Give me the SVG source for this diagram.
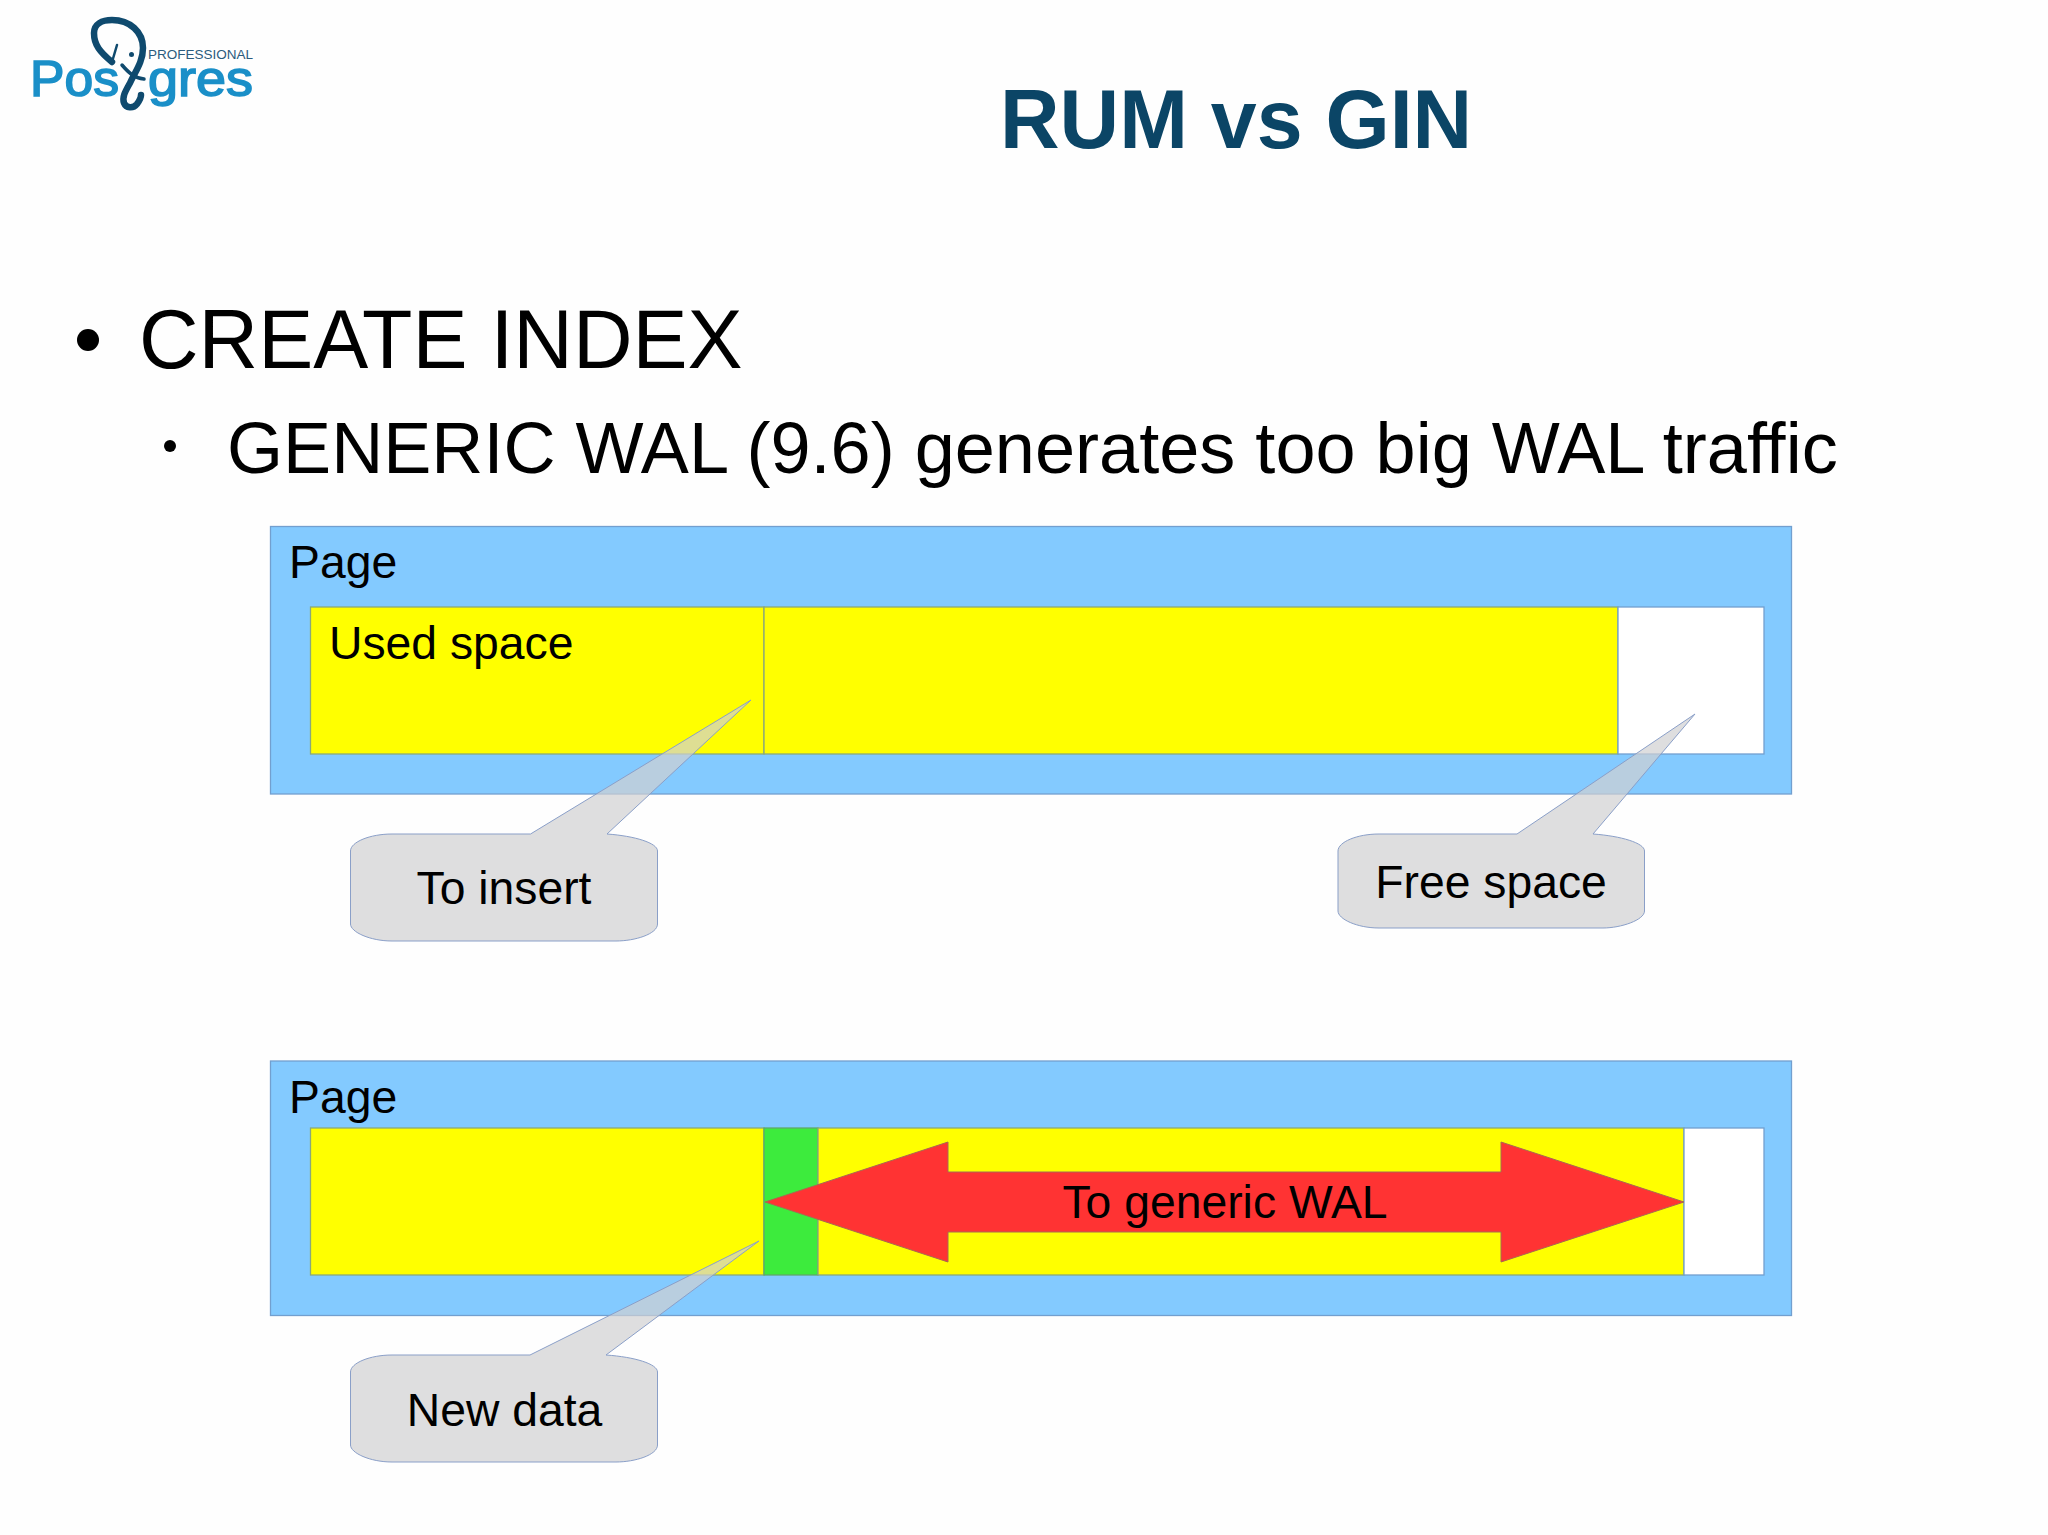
<svg xmlns="http://www.w3.org/2000/svg" width="2048" height="1535" viewBox="0 0 2048 1535">
<style>
text{font-family:"Liberation Sans",Arial,sans-serif;fill:#000}
.lbl{font-size:46.3px}
.mid{text-anchor:middle}
.page{fill:#83caff;stroke:#729fcf;stroke-width:1.3}
.used{fill:#ffff00;stroke:#8aa87a;stroke-width:1.3}
.free{fill:#fff;stroke:#729fcf;stroke-width:1.3}
.new{fill:#3deb3d;stroke:#5ea86a;stroke-width:1.3}
.call{fill:#d0d0d2;fill-opacity:.7;stroke:#8a9fc8;stroke-width:1}
.logo{fill:none;stroke:#0f4a6e;stroke-linecap:round;stroke-linejoin:round}
.brand{fill:#1a8fc8;stroke:#1a8fc8;stroke-width:1.6px}
</style>
<rect width="2048" height="1535" fill="#fefefe"/>
<g id="logo">
<text class="brand" x="30" y="96" font-size="50" textLength="89" lengthAdjust="spacingAndGlyphs">Pos</text>
<text class="brand" x="148" y="96" font-size="50" textLength="105" lengthAdjust="spacingAndGlyphs">gres</text>
<text x="148" y="59" font-size="13.500" style="fill:#2a5b7d">PROFESSIONAL</text>
<path class="logo" stroke-width="6.500" d="M112,62 C100,52 94,45 94,33 C94,24 102,20 112,20 C130,20 143,32 143,48 C143,62 135,72 130,83 C125,92 122,97 124,103 C126,108 133,109 137,104 C140,100 141,98 141,95"/>
<path class="logo" stroke-width="2.500" d="M117,45 L112,62"/>
<path class="logo" stroke-width="3.500" d="M122,65 C128,72 134,78 144,79"/>
<circle cx="131.500" cy="54.500" r="2.500" fill="#0f4a6e"/>
</g>
<g id="title"><text x="1000" y="148" font-size="82.500" font-weight="700" style="fill:#0b4566">RUM vs GIN</text></g>
<g id="bullets">
<circle cx="88" cy="340" r="11"/>
<text x="139" y="368" font-size="82.500">CREATE INDEX</text>
<circle cx="170" cy="446" r="6"/>
<text x="227" y="473" font-size="72.100">GENERIC WAL (9.6) generates too big WAL traffic</text>
</g>
<g id="page1">
<rect class="page" x="270.500" y="526.500" width="1521" height="267.500"/>
<rect class="used" x="310.500" y="607" width="453.500" height="147"/>
<rect class="used" x="764" y="607" width="854" height="147"/>
<rect class="free" x="1618" y="607" width="146" height="147"/>
<text class="lbl" x="289" y="578">Page</text>
<text class="lbl" x="329" y="658.500">Used space</text>
</g>
<g id="page2">
<rect class="page" x="270.500" y="1061" width="1521" height="254.500"/>
<rect class="used" x="310.500" y="1128" width="453.500" height="147"/>
<rect class="new" x="764" y="1128" width="54" height="147"/>
<rect class="used" x="818" y="1128" width="866" height="147"/>
<rect class="free" x="1684" y="1128" width="80" height="147"/>
<text class="lbl" x="289" y="1112.500">Page</text>
</g>
<g id="connectors">
<path id="arrow-wal" fill="#ff3333" stroke="#a86a50" stroke-width="1" d="M765,1202 L948,1142 V1172 H1501 V1142 L1684,1202 L1501,1262 V1232 H948 V1262 Z"/>
</g>
<g id="arrow-label"><text class="lbl mid" x="1225" y="1218">To generic WAL</text></g>
<g id="callout-insert">
<path class="call" d="M392,834 H530.500 L751,700 L607,834 C635,836 657.500,843 657.500,851 V924 C657.500,934 635,941 616,941 H392 C370,941 350.500,932 350.500,924 V851 C350.500,842 370,834 392,834 Z"/>
<text class="lbl mid" x="504" y="903.500">To insert</text>
</g>
<g id="callout-free">
<path class="call" d="M1379,834 H1517 L1695,714 L1593,834 C1621,836 1644.500,843 1644.500,851 V911 C1644.500,920 1621,928 1603,928 H1379 C1357,928 1338,919 1338,911 V851 C1338,842 1357,834 1379,834 Z"/>
<text class="lbl mid" x="1491" y="897.500">Free space</text>
</g>
<g id="callout-new">
<path class="call" d="M392,1355 H530 L759,1241 L606,1355 C635,1357 657.500,1364 657.500,1372 V1445 C657.500,1455 635,1462 616,1462 H392 C370,1462 350.500,1453 350.500,1445 V1372 C350.500,1363 370,1355 392,1355 Z"/>
<text class="lbl mid" x="504.500" y="1425.500">New data</text>
</g>
</svg>
